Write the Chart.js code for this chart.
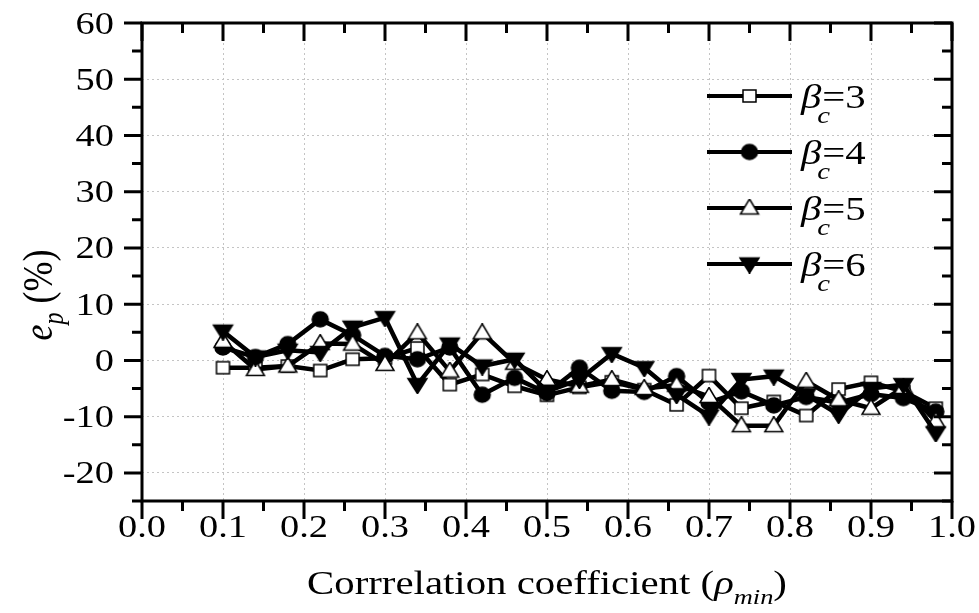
<!DOCTYPE html>
<html>
<head>
<meta charset="utf-8">
<script src="https://cdn.jsdelivr.net/npm/chart.js@4.4.0/dist/chart.umd.min.js"></script>
<style>
  html, body { margin: 0; padding: 0; background: #fff; }
  #wrap { width: 979px; height: 613px; }
</style>
</head>
<body>
<div id="wrap"><canvas id="chart" width="979" height="613"></canvas></div>
<script>
// correlation coefficient values (x)
const rho = [0.10, 0.14, 0.18, 0.22, 0.26, 0.30, 0.34, 0.38, 0.42, 0.46, 0.50, 0.54,
             0.58, 0.62, 0.66, 0.70, 0.74, 0.78, 0.82, 0.86, 0.90, 0.94, 0.98];

// e_p (%) for each beta_c
const beta3 = [-1.3, -1.3, -1.0, -1.8, 0.2, 0.4, 2.2, -4.3, -2.5, -4.6, -6.2, -4.8,
               -3.8, -5.2, -7.9, -2.7, -8.5, -7.3, -9.8, -5.1, -3.9, -5.5, -8.5];
const beta4 = [2.3, 0.6, 2.9, 7.3, 4.5, 0.8, 0.2, 2.3, -6.1, -3.1, -5.8, -1.3,
               -5.4, -5.6, -2.8, -7.5, -5.5, -8.0, -6.5, -7.5, -6.0, -6.7, -9.1];
const beta5 = [3.4, -1.6, -1.0, 3.0, 2.9, -0.7, 4.9, -1.9, 4.9, -0.5, -3.4, -4.6,
               -3.4, -5.0, -4.4, -6.4, -11.6, -11.6, -3.7, -7.0, -8.5, -4.8, -10.8];
const beta6 = [5.2, 0.6, 1.8, 1.4, 5.9, 7.6, -4.3, 2.9, -1.0, 0.2, -5.5, -3.4,
               1.2, -1.3, -6.1, -9.9, -3.4, -2.8, -6.1, -9.6, -5.0, -4.3, -12.9];

const seriesLabels = ['3', '4', '5', '6'];
const xTicks = [0.0, 0.1, 0.2, 0.3, 0.4, 0.5, 0.6, 0.7, 0.8, 0.9, 1.0];
const yTicks = [-20, -10, 0, 10, 20, 30, 40, 50, 60];

const SERIF = '"Liberation Serif", "Times New Roman", serif';
const SX = 1.2; // the source figure is a bit stretched sideways

function pts(vals) {
  return rho.map((x, i) => ({ x: x, y: vals[i] }));
}

// marker sprites (slightly wider than tall, like the original)
function sprite(w, h, fill, shape) {
  const c = document.createElement('canvas');
  c.width = w + 4; c.height = h + 4;
  const g = c.getContext('2d');
  g.translate(c.width / 2, c.height / 2);
  g.beginPath();
  if (shape === 'rect') {
    g.rect(-w / 2, -h / 2, w, h);
  } else if (shape === 'circle') {
    g.ellipse(0, 0, w / 2, h / 2, 0, 0, Math.PI * 2);
  } else if (shape === 'up') {
    g.moveTo(0, -h * 0.6); g.lineTo(w / 2, h * 0.4); g.lineTo(-w / 2, h * 0.4); g.closePath();
  } else {
    g.moveTo(0, h * 0.6); g.lineTo(w / 2, -h * 0.4); g.lineTo(-w / 2, -h * 0.4); g.closePath();
  }
  g.fillStyle = fill;
  g.fill();
  g.lineWidth = 1.5;
  g.strokeStyle = '#000';
  g.stroke();
  return c;
}

const mSquare = sprite(13, 12, '#fff', 'rect');
const mCircle = sprite(16, 15, '#000', 'circle');
const mUp = sprite(18, 15, '#fff', 'up');
const mDown = sprite(19, 15, '#000', 'down');

function mkSet(label, vals, style, order) {
  return {
    label: label,
    data: pts(vals),
    borderColor: '#000',
    borderWidth: 4.5,
    pointStyle: style,
    pointRadius: 8,
    pointHoverRadius: 8,
    tension: 0,
    order: order
  };
}

function text(ctx, str, font, x, y, sx) {
  ctx.font = font + SERIF;
  const w = ctx.measureText(str).width * sx;
  ctx.save();
  ctx.translate(x, y);
  ctx.scale(sx, 1);
  ctx.fillText(str, 0, 0);
  ctx.restore();
  return w;
}
function textWidth(ctx, str, font, sx) {
  ctx.font = font + SERIF;
  return ctx.measureText(str).width * sx;
}

// frame, ticks, labels, legend and axis titles
const decor = {
  id: 'decor',
  afterDraw(chart) {
    const ctx = chart.ctx;
    const a = chart.chartArea;
    const xs = chart.scales.x, ys = chart.scales.y;
    ctx.save();
    ctx.strokeStyle = '#000';
    ctx.lineWidth = 3;
    ctx.strokeRect(a.left, a.top, a.right - a.left, a.bottom - a.top);

    ctx.beginPath();
    xTicks.forEach((v, i) => {
      const px = xs.getPixelForValue(v);
      ctx.moveTo(px, a.bottom); ctx.lineTo(px, a.bottom + 18);
      ctx.moveTo(px, a.top); ctx.lineTo(px, a.top + 18);
      if (i < xTicks.length - 1) {
        const mx = xs.getPixelForValue((v + xTicks[i + 1]) / 2);
        ctx.moveTo(mx, a.bottom); ctx.lineTo(mx, a.bottom + 10);
        ctx.moveTo(mx, a.top); ctx.lineTo(mx, a.top + 10);
      }
    });
    const yMinor = [ys.min];
    yTicks.forEach((v, i) => {
      const py = ys.getPixelForValue(v);
      ctx.moveTo(a.left, py); ctx.lineTo(a.left - 18, py);
      ctx.moveTo(a.right, py); ctx.lineTo(a.right - 18, py);
      if (i < yTicks.length - 1) yMinor.push((v + yTicks[i + 1]) / 2);
    });
    yMinor.forEach(v => {
      const py = ys.getPixelForValue(v);
      ctx.moveTo(a.left, py); ctx.lineTo(a.left - 10, py);
      ctx.moveTo(a.right, py); ctx.lineTo(a.right - 10, py);
    });
    ctx.stroke();

    // tick labels
    ctx.fillStyle = '#000';
    ctx.textBaseline = 'alphabetic';
    ctx.textAlign = 'left';
    const TF = '32px ';
    xTicks.forEach(v => {
      const s = v.toFixed(1);
      const w = textWidth(ctx, s, TF, SX);
      text(ctx, s, TF, xs.getPixelForValue(v) - w / 2, a.bottom + 36, SX);
    });
    yTicks.forEach(v => {
      const s = String(v);
      const w = textWidth(ctx, s, TF, SX);
      text(ctx, s, TF, a.left - 28 - w, ys.getPixelForValue(v) + 10.5, SX);
    });

    // legend
    const sprites = [mSquare, mCircle, mUp, mDown];
    chart.data.datasets.forEach((ds, i) => {
      const ly = 96 + i * 56;
      ctx.beginPath();
      ctx.lineWidth = 4;
      ctx.strokeStyle = '#000';
      ctx.moveTo(707, ly); ctx.lineTo(792, ly);
      ctx.stroke();
      const sp = sprites[i];
      ctx.drawImage(sp, 749.5 - sp.width / 2, ly - sp.height / 2);
      const bw = text(ctx, '\u03b2', 'italic 34px ', 801, ly + 12, SX);
      text(ctx, 'c', 'italic 24px ', 801 + bw - 4, ly + 27, SX);
      text(ctx, '=' + ds.label, '34px ', 801 + bw + 1, ly + 12, SX);
    });

    // x title
    const parts = [
      ['Corrrelation coefficient (', '34px ', 0],
      ['\u03c1', 'italic 34px ', 0],
      ['min', 'italic 22px ', 10],
      [')', '34px ', 0]
    ];
    let tw = 0;
    parts.forEach(p => { tw += textWidth(ctx, p[0], p[1], SX); });
    let tx = (a.left + a.right) / 2 - tw / 2;
    parts.forEach(p => { tx += text(ctx, p[0], p[1], tx, 594 + p[2], SX); });

    // y title (rotated; sideways stretch becomes glyph height)
    ctx.translate(52, 295);
    ctx.scale(SX, 1);
    ctx.rotate(-Math.PI / 2);
    const yparts = [
      ['e', 'italic 36px ', 0],
      ['p', 'italic 24px ', 9],
      [' (%)', '36px ', 0]
    ];
    tw = 0;
    yparts.forEach(p => { tw += textWidth(ctx, p[0], p[1], 1); });
    tx = -tw / 2;
    yparts.forEach(p => { tx += text(ctx, p[0], p[1], tx, p[2], 1); });
    ctx.restore();
  }
};

new Chart(document.getElementById('chart'), {
  type: 'line',
  data: {
    datasets: [
      mkSet(seriesLabels[0], beta3, mSquare, 3),
      mkSet(seriesLabels[1], beta4, mCircle, 2),
      mkSet(seriesLabels[2], beta5, mUp, 1),
      mkSet(seriesLabels[3], beta6, mDown, 0)
    ]
  },
  options: {
    responsive: false,
    animation: false,
    layout: { padding: { top: 23, right: 27, left: 0, bottom: 0 } },
    plugins: { legend: { display: false }, tooltip: { enabled: false } },
    scales: {
      x: {
        type: 'linear',
        min: 0, max: 1,
        afterBuildTicks: s => { s.ticks = xTicks.map(v => ({ value: v })); },
        afterFit: s => { s.height = 112; },
        grid: { color: '#c4c4c4', lineWidth: 1, drawTicks: false },
        border: { display: false, dash: [2, 3] },
        ticks: { display: false }
      },
      y: {
        type: 'linear',
        min: -25, max: 60,
        afterBuildTicks: s => { s.ticks = yTicks.map(v => ({ value: v })); },
        afterFit: s => { s.width = 142; },
        grid: { color: '#c4c4c4', lineWidth: 1, drawTicks: false },
        border: { display: false, dash: [2, 3] },
        ticks: { display: false }
      }
    }
  },
  plugins: [decor]
});
</script>
</body>
</html>
